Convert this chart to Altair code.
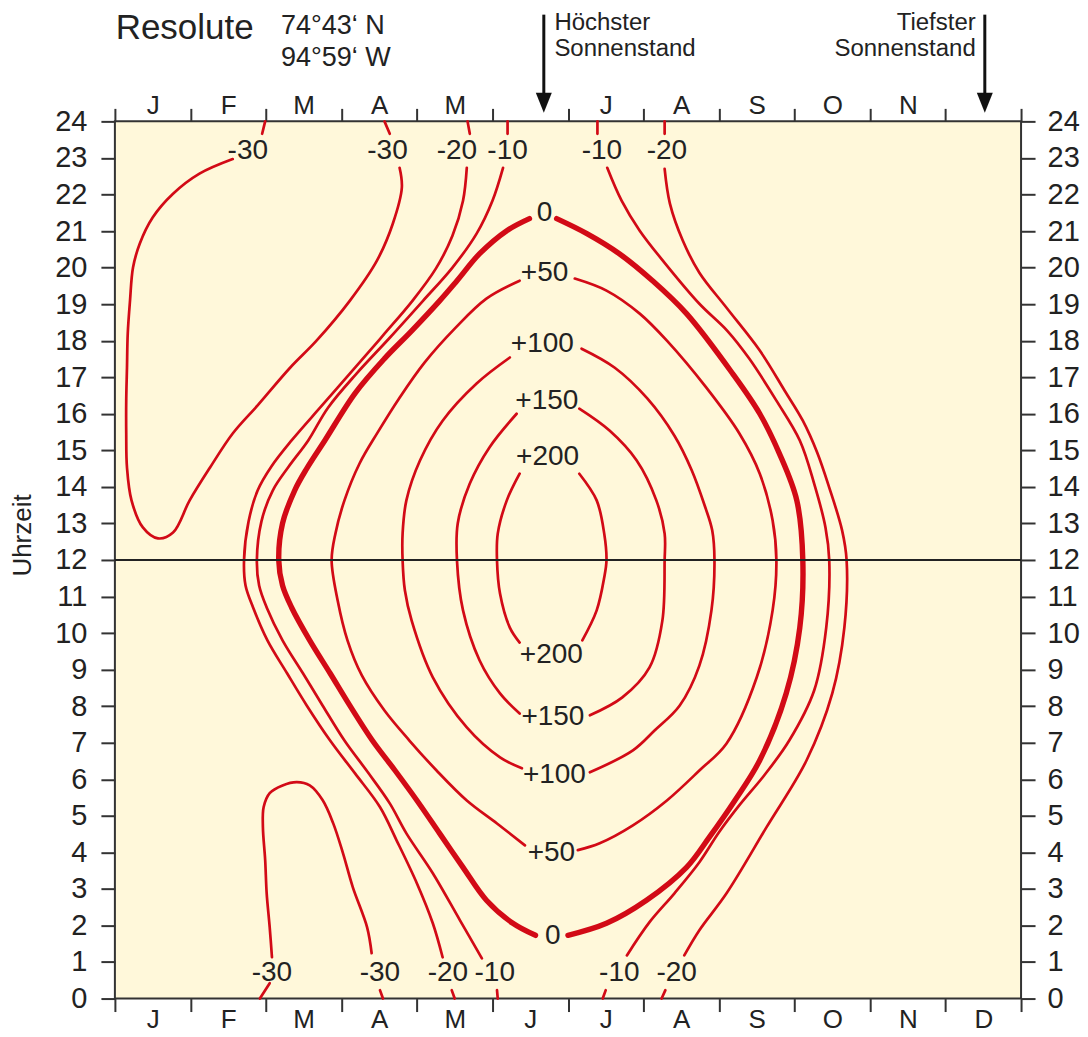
import altair as alt
import pandas as pd

FONT = "Liberation Sans, Arial, Helvetica, sans-serif"
RED = "#D20A16"
INK = "#222222"
AXIS_INK = "#333333"
CREAM = "#FFF8DA"

# ---------------- axis data ----------------
MONTHS = ["J", "F", "M", "A", "M", "J", "J", "A", "S", "O", "N", "D"]
MONTH_EDGES = list(range(13))
MONTH_CENTERS = [i + 0.5 for i in range(12)]
TOP_MONTH_CENTERS = [0.5, 1.5, 2.5, 3.5, 4.5, 6.5, 7.5, 8.5, 9.5, 10.5]  # June/December carry the arrows
HOURS = list(range(25))
NOON = 12

# ---------------- contour lines (x = month 0..12, y = hour 0..24) ----------------
# -30 (upper loop)
M30U_TOP_M = [1.99, 1.95]
M30U_TOP_H = [24.0, 23.66]
M30U_M = [1.56, 1.12, 0.77, 0.50, 0.33, 0.24, 0.20, 0.17, 0.16, 0.15, 0.15, 0.16, 0.22, 0.37, 0.57,
          0.77, 0.99, 1.26, 1.56, 1.89, 2.32, 2.67, 3.11, 3.47, 3.68, 3.80, 3.77]
M30U_H = [22.97, 22.57, 22.02, 21.37, 20.66, 20.0, 19.09, 18.19, 17.26, 16.36, 15.46, 14.53, 13.63, 12.89, 12.59,
          12.75, 13.63, 14.53, 15.46, 16.23, 17.26, 18.0, 19.09, 20.19, 21.2, 22.19, 22.73]
M30U_RTOP_M = [3.64, 3.57]
M30U_RTOP_H = [23.66, 24.0]
# -30 (lower loop)
M30L_B1_M = [1.92, 2.05]
M30L_B1_H = [0.0, 0.42]
M30L_M = [2.08, 2.05, 2.01, 1.99, 1.96, 1.97, 2.05, 2.22, 2.41, 2.58, 2.75, 2.89, 3.02, 3.15, 3.34, 3.40]
M30L_H = [1.13, 1.95, 2.88, 3.79, 4.69, 5.24, 5.62, 5.83, 5.92, 5.83, 5.43, 4.80, 3.98, 3.05, 1.95, 1.24]
M30L_B2_M = [3.51, 3.55]
M30L_B2_H = [0.23, 0.0]
# -20 (spring)
M20L_TOP_M = [4.67, 4.70]
M20L_TOP_H = [24.0, 23.66]
M20L_M = [4.66, 4.61, 4.47, 4.25, 3.94, 3.57, 3.18, 2.74, 2.34, 2.07, 1.89, 1.77, 1.71,
          1.73, 1.83, 2.02, 2.28, 2.54, 2.85, 3.18, 3.51, 3.73, 4.00, 4.21, 4.34]
M20L_H = [22.73, 21.83, 20.87, 19.97, 19.09, 18.19, 17.26, 16.22, 15.27, 14.55, 13.90, 13.05, 11.99,
          11.30, 10.70, 9.80, 8.90, 8.02, 7.06, 6.16, 5.24, 4.33, 3.15, 2.06, 1.13]
M20L_BOT_M = [4.46, 4.50]
M20L_BOT_H = [0.23, 0.0]
# -10 (spring)
M10L_TOP_M = [5.20, 5.20]
M10L_TOP_H = [24.0, 23.66]
M10L_M = [5.14, 5.00, 4.79, 4.47, 4.08, 3.64, 3.20, 2.82, 2.56, 2.30, 2.09, 1.94, 1.88,
          1.91, 2.01, 2.22, 2.49, 2.75, 3.04, 3.35, 3.64, 3.86, 4.21, 4.57, 4.86]
M10L_H = [22.73, 21.83, 20.93, 20.0, 19.09, 18.08, 17.10, 16.16, 15.27, 14.55, 13.90, 13.05, 11.99,
          11.30, 10.70, 9.80, 8.90, 8.02, 7.06, 6.19, 5.34, 4.52, 3.43, 2.14, 1.10]
M10L_BOT_M = [5.06, 5.07]
M10L_BOT_H = [0.23, 0.0]
# -10 (autumn)
M10R_TOP_M = [6.39, 6.39]
M10R_TOP_H = [24.0, 23.66]
M10R_M = [6.52, 6.71, 6.95, 7.28, 7.74, 8.11, 8.40, 8.76, 9.07, 9.26, 9.41, 9.46, 9.42, 9.26, 8.93, 8.60,
          8.27, 8.00, 7.74, 7.41, 7.08, 6.78]
M10R_H = [22.73, 21.83, 21.01, 20.13, 19.01, 18.27, 17.51, 16.36, 15.27, 14.09, 12.89, 11.99, 10.15, 8.43, 7.06, 6.11,
          5.29, 4.55, 3.73, 2.88, 2.09, 1.18]
M10R_BOT_M = [6.50, 6.46]
M10R_BOT_H = [0.23, 0.0]
# -20 (autumn)
M20R_TOP_M = [7.28, 7.28]
M20R_TOP_H = [24.0, 23.66]
M20R_M = [7.28, 7.35, 7.52, 7.74, 8.10, 8.54, 8.87, 9.11, 9.30, 9.46, 9.63, 9.69, 9.66, 9.50, 9.16, 8.63,
          8.10, 7.74, 7.54]
M20R_H = [22.70, 21.75, 20.74, 19.86, 18.90, 17.73, 16.63, 15.81, 14.94, 13.98, 12.81, 11.99, 10.15, 8.35, 6.52, 4.69,
          2.88, 1.87, 1.18]
M20R_BOT_M = [7.29, 7.24]
M20R_BOT_H = [0.23, 0.0]
# 0
Z_L_M = [5.49, 5.19, 4.83, 4.53, 4.30, 3.93, 3.57, 3.18, 2.78, 2.54, 2.38, 2.22, 2.17,
         2.22, 2.34, 2.58, 2.85, 3.11, 3.41, 3.71, 4.00, 4.30, 4.61, 4.92, 5.27, 5.57]
Z_L_H = [21.34, 21.01, 20.38, 19.64, 19.09, 18.27, 17.51, 16.56, 15.27, 14.50, 13.90, 13.00, 11.99,
         11.30, 10.70, 9.80, 8.90, 8.02, 7.06, 6.24, 5.42, 4.52, 3.59, 2.69, 2.06, 1.73]
Z_R_M = [5.85, 6.25, 6.68, 7.12, 7.57, 8.18, 8.54, 8.80, 9.03, 9.11, 9.07, 8.89, 8.54, 8.21, 7.87, 7.57, 7.04, 6.51, 6.00]
Z_R_H = [21.34, 20.93, 20.38, 19.64, 18.74, 17.10, 16.00, 14.91, 13.63, 11.99, 10.15, 8.35, 6.52, 5.42, 4.41, 3.59, 2.69, 2.06, 1.73]
# +50
P50_L_M = [5.36, 4.92, 4.50, 4.10, 3.77, 3.48, 3.24, 3.04, 2.92, 2.87, 2.95, 3.08, 3.27, 3.57, 3.90, 4.26, 4.66, 5.06, 5.43]
P50_L_H = [19.64, 19.15, 18.33, 17.40, 16.44, 15.49, 14.64, 13.63, 12.72, 11.99, 10.89, 9.80, 8.84, 7.88, 7.06, 6.24, 5.42, 4.79, 4.19]
P50_R_M = [6.09, 6.51, 6.95, 7.31, 7.83, 8.27, 8.54, 8.71, 8.76, 8.71, 8.50, 8.10, 7.74, 7.31, 6.86, 6.42, 6.13]
P50_R_H = [19.70, 19.37, 18.74, 18.00, 16.72, 15.46, 14.36, 13.08, 11.99, 10.62, 8.79, 6.98, 6.24, 5.42, 4.74, 4.25, 4.06]
# +100
P100_L_M = [5.23, 4.79, 4.34, 4.04, 3.86, 3.81, 3.81, 3.84, 3.93, 4.21, 4.66, 5.10, 5.39]
P100_L_H = [17.54, 16.83, 15.81, 14.72, 13.63, 12.72, 11.99, 11.17, 10.34, 8.79, 7.42, 6.60, 6.30]
P100_R_M = [6.18, 6.62, 7.05, 7.41, 7.64, 7.81, 7.91, 7.94, 7.90, 7.74, 7.48, 7.15, 6.86, 6.29]
P100_R_H = [17.78, 17.26, 16.42, 15.40, 14.45, 13.49, 12.81, 11.99, 10.62, 9.11, 8.02, 7.34, 6.79, 6.19]
# +150
P150_L_M = [5.32, 4.96, 4.70, 4.54, 4.53, 4.61, 4.83, 5.10, 5.36]
P150_L_H = [16.00, 15.08, 14.09, 13.00, 11.99, 10.62, 9.25, 8.35, 7.80]
P150_R_M = [6.15, 6.55, 6.91, 7.17, 7.28, 7.28, 7.25, 7.08, 6.72, 6.29]
P150_R_H = [16.14, 15.54, 14.72, 13.63, 12.72, 11.99, 10.34, 9.06, 8.24, 7.75]
# +200
P200_L_M = [5.36, 5.19, 5.07, 5.06, 5.10, 5.23, 5.36]
P200_L_H = [14.36, 13.63, 12.72, 11.99, 11.08, 10.15, 9.74]
P200_R_M = [6.15, 6.38, 6.48, 6.51, 6.48, 6.38, 6.19]
P200_R_H = [14.36, 13.63, 12.72, 11.99, 11.52, 10.62, 9.80]

# ---------------- contour labels ----------------
LBL_TEXT = ["-30", "-30", "-20", "-10", "-10", "-20",
            "-30", "-30", "-20", "-10", "-10", "-20",
            "0", "+50", "+100", "+150", "+200", "+200", "+150", "+100", "+50", "0"]
LBL_M = [1.76, 3.61, 4.53, 5.20, 6.45, 7.31,
         2.08, 3.51, 4.41, 5.03, 6.68, 7.44,
         5.69, 5.69, 5.66, 5.72, 5.73, 5.78, 5.80, 5.82, 5.78, 5.80]
LBL_H = [23.2, 23.2, 23.2, 23.2, 23.2, 23.2,
         0.69, 0.69, 0.69, 0.69, 0.69, 0.69,
         21.48, 19.85, 17.91, 16.36, 14.81, 9.39, 7.70, 6.11, 3.98, 1.71]

# ---------------- annotations (above the plot, in data units) ----------------
TITLE_TEXT = ["Resolute"]
TITLE_M = [0.01]
TITLE_H = [26.56]
COORD_TEXT = ["74°43‘ N", "94°59‘ W"]
COORD_M = [2.20, 2.20]
COORD_H = [26.62, 25.74]
SUN_HI_TEXT = ["Höchster", "Sonnenstand"]
SUN_HI_M = [5.82, 5.82]
SUN_LO_TEXT = ["Tiefster", "Sonnenstand"]
SUN_LO_M = [11.40, 11.40]
SUN_TEXT_H = [26.68, 25.99]
ARROW_M = [5.68, 11.52]
ARROW_TOP_H = [26.92, 26.92]
ARROW_BASE_H = [24.72, 24.72]
ARROW_HEAD_H = [24.51, 24.51]

segments = [
    ("m30u_top", M30U_TOP_M, M30U_TOP_H, "iso"),
    ("m30u", M30U_M, M30U_H, "iso"),
    ("m30u_rtop", M30U_RTOP_M, M30U_RTOP_H, "iso"),
    ("m30l_b1", M30L_B1_M, M30L_B1_H, "iso"),
    ("m30l", M30L_M, M30L_H, "iso"),
    ("m30l_b2", M30L_B2_M, M30L_B2_H, "iso"),
    ("m20l_top", M20L_TOP_M, M20L_TOP_H, "iso"),
    ("m20l", M20L_M, M20L_H, "iso"),
    ("m20l_bot", M20L_BOT_M, M20L_BOT_H, "iso"),
    ("m10l_top", M10L_TOP_M, M10L_TOP_H, "iso"),
    ("m10l", M10L_M, M10L_H, "iso"),
    ("m10l_bot", M10L_BOT_M, M10L_BOT_H, "iso"),
    ("m10r_top", M10R_TOP_M, M10R_TOP_H, "iso"),
    ("m10r", M10R_M, M10R_H, "iso"),
    ("m10r_bot", M10R_BOT_M, M10R_BOT_H, "iso"),
    ("m20r_top", M20R_TOP_M, M20R_TOP_H, "iso"),
    ("m20r", M20R_M, M20R_H, "iso"),
    ("m20r_bot", M20R_BOT_M, M20R_BOT_H, "iso"),
    ("z_l", Z_L_M, Z_L_H, "zero"),
    ("z_r", Z_R_M, Z_R_H, "zero"),
    ("p50_l", P50_L_M, P50_L_H, "iso"),
    ("p50_r", P50_R_M, P50_R_H, "iso"),
    ("p100_l", P100_L_M, P100_L_H, "iso"),
    ("p100_r", P100_R_M, P100_R_H, "iso"),
    ("p150_l", P150_L_M, P150_L_H, "iso"),
    ("p150_r", P150_R_M, P150_R_H, "iso"),
    ("p200_l", P200_L_M, P200_L_H, "iso"),
    ("p200_r", P200_R_M, P200_R_H, "iso"),
]

rows = []
for name, ms, hs, kind in segments:
    for i, (m, h) in enumerate(zip(ms, hs)):
        rows.append({"seg": name, "i": i, "m": m, "h": h, "kind": kind})
df_lines = pd.DataFrame(rows)
df_lbl = pd.DataFrame({"t": LBL_TEXT, "m": LBL_M, "h": LBL_H})

month_expr = "[" + ",".join("'%s'" % s for s in MONTHS) + "][floor(datum.value)]"

x_scale = alt.Scale(domain=[0, 12], nice=False, zero=False)
y_scale = alt.Scale(domain=[0, 24], nice=False, zero=False)

common = dict(grid=False, domain=False, tickColor=AXIS_INK, tickWidth=2,
              labelFont=FONT, labelColor=INK, labelFlush=False, labelOverlap=False)

X_TICKS_B = alt.Axis(orient="bottom", values=MONTH_EDGES, labels=False, tickSize=13, title=None, **common)
X_LAB_B = alt.Axis(orient="bottom", values=MONTH_CENTERS, ticks=False, tickSize=0, labelExpr=month_expr,
                   labelFontSize=26, labelPadding=21, labelBaseline="middle", title=None, **common)
X_TICKS_T = alt.Axis(orient="top", values=MONTH_EDGES, labels=False, tickSize=13, title=None, **common)
X_LAB_T = alt.Axis(orient="top", values=TOP_MONTH_CENTERS, ticks=False, tickSize=0, labelExpr=month_expr,
                   labelFontSize=26, labelPadding=16, labelBaseline="middle", title=None, **common)
Y_LEFT = alt.Axis(orient="left", values=HOURS, tickSize=14, labelFontSize=29, labelPadding=14, format="d",
                  labelBaseline="middle", title="Uhrzeit", titleFont=FONT, titleFontSize=26,
                  titleFontWeight="normal", titleColor=INK, titleX=-92, titleY=414, titleAngle=270,
                  titleAlign="center", titleBaseline="middle", **common)
Y_RIGHT = alt.Axis(orient="right", values=HOURS, tickSize=14, labelFontSize=29, labelPadding=12, format="d",
                   labelBaseline="middle", title=None, **common)

lines = alt.Chart(df_lines).mark_line(interpolate="catmull-rom", color=RED, strokeCap="round",
                                      strokeJoin="round").encode(
    x=alt.X("m:Q", scale=x_scale, axis=X_TICKS_B),
    y=alt.Y("h:Q", scale=y_scale, axis=Y_LEFT),
    detail="seg:N",
    order="i:Q",
    strokeWidth=alt.StrokeWidth("kind:N", scale=alt.Scale(domain=["iso", "zero"], range=[2.7, 5.4]), legend=None),
)

labels = alt.Chart(df_lbl).mark_text(font=FONT, fontSize=28, color=INK, align="center",
                                     baseline="middle").encode(
    x=alt.X("m:Q", scale=x_scale, axis=X_LAB_B),
    y=alt.Y("h:Q", scale=y_scale, axis=Y_RIGHT),
    text="t:N",
)

noon = alt.Chart(pd.DataFrame({"h": [NOON]})).mark_rule(color="#222222", strokeWidth=2).encode(
    y=alt.Y("h:Q", scale=y_scale, axis=None)
)

title = alt.Chart(pd.DataFrame({"t": TITLE_TEXT, "m": TITLE_M, "h": TITLE_H})).mark_text(
    font=FONT, fontSize=35, color=INK, align="left", baseline="middle").encode(
    x=alt.X("m:Q", scale=x_scale, axis=X_TICKS_T),
    y=alt.Y("h:Q", scale=y_scale, axis=None),
    text="t:N",
)

coords = alt.Chart(pd.DataFrame({"t": COORD_TEXT, "m": COORD_M, "h": COORD_H})).mark_text(
    font=FONT, fontSize=27, color=INK, align="left", baseline="middle").encode(
    x=alt.X("m:Q", scale=x_scale, axis=X_LAB_T),
    y=alt.Y("h:Q", scale=y_scale, axis=None),
    text="t:N",
)

sun_hi = alt.Chart(pd.DataFrame({"t": SUN_HI_TEXT, "m": SUN_HI_M, "h": SUN_TEXT_H})).mark_text(
    font=FONT, fontSize=24, color=INK, align="left", baseline="middle").encode(
    x=alt.X("m:Q", scale=x_scale, axis=None),
    y=alt.Y("h:Q", scale=y_scale, axis=None),
    text="t:N",
)

sun_lo = alt.Chart(pd.DataFrame({"t": SUN_LO_TEXT, "m": SUN_LO_M, "h": SUN_TEXT_H})).mark_text(
    font=FONT, fontSize=24, color=INK, align="right", baseline="middle").encode(
    x=alt.X("m:Q", scale=x_scale, axis=None),
    y=alt.Y("h:Q", scale=y_scale, axis=None),
    text="t:N",
)

df_arrow = pd.DataFrame({"m": ARROW_M, "top": ARROW_TOP_H, "base": ARROW_BASE_H, "head": ARROW_HEAD_H})
arrow_shaft = alt.Chart(df_arrow).mark_rule(color="#111111", strokeWidth=3).encode(
    x=alt.X("m:Q", scale=x_scale, axis=None),
    y=alt.Y("top:Q", scale=y_scale, axis=None),
    y2="base:Q",
)
arrow_head = alt.Chart(df_arrow).mark_point(shape="M-0.8,-1L0.8,-1L0,1Z", filled=True, size=400,
                                            color="#111111", opacity=1, strokeWidth=0).encode(
    x=alt.X("m:Q", scale=x_scale, axis=None),
    y=alt.Y("head:Q", scale=y_scale, axis=None),
)

chart = alt.layer(
    lines, labels, noon, title, coords, sun_hi, sun_lo, arrow_shaft, arrow_head
).resolve_axis(
    x="independent", y="independent"
).properties(
    width=907, height=878, padding={"left": 2, "top": 2, "right": 0, "bottom": 0}, background="white"
).configure_view(
    fill=CREAM, stroke=AXIS_INK, strokeWidth=2
)

chart.save("out.html", embed_options={"renderer": "svg", "actions": False})
